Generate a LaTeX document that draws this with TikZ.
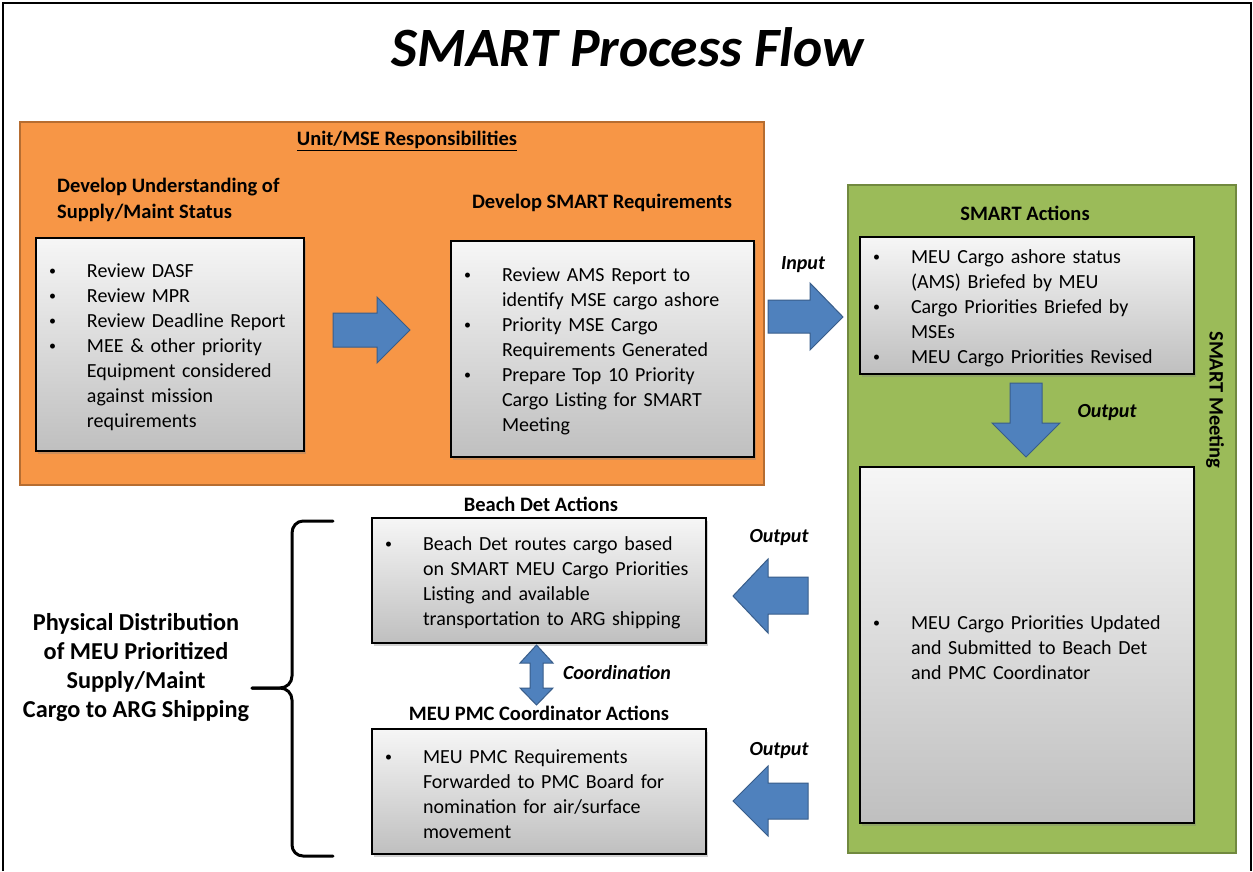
\documentclass[tikz,border=0pt]{standalone}
\usepackage{fontspec}
\setmainfont{Carlito}
\usetikzlibrary{positioning,shadows}

\definecolor{unitorange}{HTML}{F79646}
\definecolor{unitedge}{HTML}{B66D31}
\definecolor{meetgreen}{HTML}{9BBB59}
\definecolor{meetedge}{HTML}{71893F}
\definecolor{flowblue}{HTML}{4F81BD}
\definecolor{flowedge}{HTML}{385D8A}

\newcommand{\bitem}[1]{\par\noindent\hangindent=51pt\hangafter=1%
    \makebox[51pt][l]{\hspace{13pt}\raisebox{2pt}{\fontsize{14}{14}\selectfont\textbullet}}#1\par}

\begin{document}
\begin{tikzpicture}[x=1pt,y=-1pt,
    panel/.style={line width=1.5pt, inner sep=0pt},
    listbox/.style={draw=black, line width=1.2pt, top color=gray!7, bottom color=gray!50,
        drop shadow={shadow xshift=2pt, shadow yshift=-3pt, opacity=0.35},
        text width=#1, inner xsep=0pt, inner ysep=0pt,
        font=\fontsize{20}{25}\selectfont\raggedright,
        execute at end node=\vspace{6pt}},
    head/.style={inner sep=0pt, font=\fontsize{20.5}{26}\selectfont\bfseries},
    tag/.style={inner sep=0pt, font=\fontsize{20}{25}\selectfont\bfseries\itshape},
    blockarrow/.style={fill=flowblue, draw=flowedge, line width=1pt}]

    \useasboundingbox (0,0) rectangle (1253,871);
    \fill[white] (0,0) rectangle (1253,871);
    \draw[line width=2pt] (3,871) -- (3,3) -- (1251,3) -- (1251,871);

    % title
    \node[inner sep=0pt, font=\fontsize{55.5}{62}\selectfont\bfseries\itshape] (title) at (628,47) {SMART Process Flow};

    % panels
    \node[panel, draw=unitedge, fill=unitorange, minimum width=744pt, minimum height=363pt] (unitpanel) at (392,303.5) {};
    \node[panel, draw=meetedge, fill=meetgreen, minimum width=388pt, minimum height=668pt] (meetpanel) at (1042,519) {};

    % unit/MSE side
    \node[head] (unithead) at (407,141) {\underline{Unit/MSE Responsibilities}};
    \node[head, align=left, anchor=west] (understand) at (57,200) {Develop Understanding of\\Supply/Maint Status};
    \node[head] (reqhead) at (602,203) {Develop SMART Requirements};

    \node[listbox=268pt, minimum height=213pt] (status) at (170,344.5) {%
        \bitem{Review DASF}
        \bitem{Review MPR}
        \bitem{Review Deadline Report}
        \bitem{MEE \& other priority\newline Equipment considered\newline against mission\newline requirements}};
    \node[listbox=303pt, minimum height=216pt] (smartreq) at (602.5,349) {%
        \bitem{Review AMS Report to\newline identify MSE cargo ashore}
        \bitem{Priority MSE Cargo\newline Requirements Generated}
        \bitem{Prepare Top 10 Priority\newline Cargo Listing for SMART\newline Meeting}};

    % SMART meeting side
    \node[head] (acthead) at (1025,213) {SMART Actions};
    \node[head, rotate=-90] (meeting) at (1215,400) {SMART Meeting};
    \node[listbox=334pt, minimum height=137pt] (actions) at (1027,305.5) {%
        \bitem{MEU Cargo ashore status\newline (AMS) Briefed by MEU}
        \bitem{Cargo Priorities Briefed by\newline MSEs}
        \bitem{MEU Cargo Priorities Revised}};
    \node[listbox=334pt, minimum height=356pt] (updated) at (1027,645) {%
        \bitem{MEU Cargo Priorities Updated\newline and Submitted to Beach Det\newline and PMC Coordinator}};

    % distribution side
    \node[head] (beachhead) at (541,504) {Beach Det Actions};
    \node[head] (pmchead) at (539,713) {MEU PMC Coordinator Actions};
    \node[listbox=334pt, minimum height=125pt] (beachdet) at (539,580.5) {%
        \bitem{Beach Det routes cargo based\newline on SMART MEU Cargo Priorities\newline Listing and available\newline transportation to ARG shipping}};
    \node[listbox=334pt, minimum height=125pt] (pmc) at (539,791.5) {%
        \bitem{MEU PMC Requirements\newline Forwarded to PMC Board for\newline nomination for air/surface\newline movement}};

    \node[inner sep=0pt, align=center, font=\fontsize{24.3}{29}\selectfont\bfseries] (physical) at (136,668) {Physical Distribution\\of MEU Prioritized\\Supply/Maint\\Cargo to ARG Shipping};

    % block arrows
    \draw[blockarrow] (333,313) -- (377,313) -- (377,297) -- (410,330) -- (377,363) -- (377,347) -- (333,347) -- cycle;
    \draw[blockarrow] (768,300) -- (810,300) -- (810,283) -- (843,317) -- (810,350) -- (810,333) -- (768,333) -- cycle;
    \draw[blockarrow] (1010,383) -- (1042,383) -- (1042,423) -- (1060,423) -- (1026,457) -- (992,423) -- (1010,423) -- cycle;
    \draw[blockarrow] (808,577) -- (768,577) -- (768,559) -- (733,596) -- (768,633) -- (768,614) -- (808,614) -- cycle;
    \draw[blockarrow] (808,783) -- (768,783) -- (768,766) -- (733,801) -- (768,836) -- (768,819) -- (808,819) -- cycle;
    \draw[blockarrow] (536.5,645) -- (553,663) -- (543,663) -- (543,688) -- (553,688) -- (536.5,705) -- (520,688) -- (530,688) -- (530,663) -- (520,663) -- cycle;

    \node[tag] (input) at (803,265) {Input};
    \node[tag] (outdown) at (1107,413) {Output};
    \node[tag] (outbeach) at (779,538) {Output};
    \node[tag] (outpmc) at (779,751) {Output};
    \node[tag] (coord) at (617,673) {Coordination};

    % brace
    \coordinate (bracetip) at (252,688);
    \draw[line width=3pt, line cap=round] (333,521) -- (303,521) to[out=180,in=90] (292,533) -- (292,676)
        to[out=270,in=0] (280,688) -- (bracetip);
    \draw[line width=3pt, line cap=round] (bracetip) -- (280,688) to[out=0,in=90] (292,700) -- (292,845)
        to[out=270,in=180] (303,856) -- (333,856);
\end{tikzpicture}
\end{document}
